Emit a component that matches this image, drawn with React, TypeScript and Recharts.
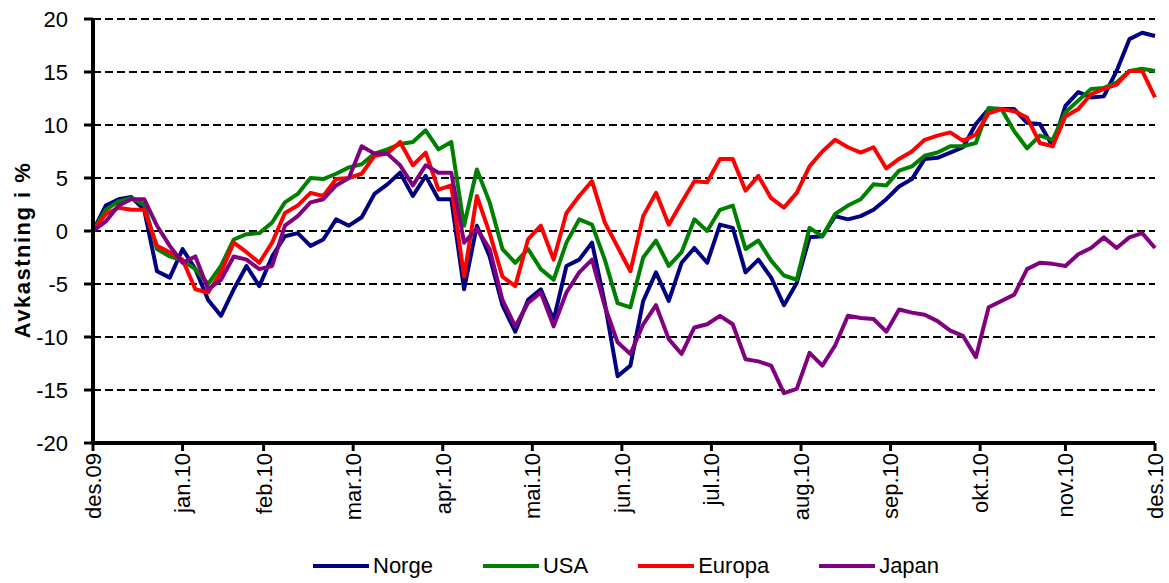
import React from 'react';
import { LineChart, Line, XAxis, YAxis, CartesianGrid, Legend } from 'recharts';

// trading day index (0 = end of Nov 2009)
const days = [
  0, 3, 6, 9, 12, 15, 18, 21, 24, 27, 30, 33, 36, 39, 42, 45, 48, 51, 54, 57,
  60, 63, 66, 69, 72, 75, 78, 81, 84, 87, 90, 93, 96, 99, 102, 105, 108, 111, 114, 117,
  120, 123, 126, 129, 132, 135, 138, 141, 144, 147, 150, 153, 156, 159, 162, 165, 168, 171, 174, 177,
  180, 183, 186, 189, 192, 195, 198, 201, 204, 207, 210, 213, 216, 219, 222, 225, 228, 231, 234, 237,
  240, 243, 246, 249,
];

const norge = [
  0, 2.4, 3.0, 3.2, 2.0, -3.8, -4.4, -1.7, -3.6, -6.5, -8.0, -5.5, -3.3, -5.2, -2.4, -0.5, -0.2, -1.4, -0.8, 1.1,
  0.5, 1.3, 3.5, 4.4, 5.5, 3.3, 5.2, 3.0, 3.0, -5.5, 0.5, -2.4, -7.0, -9.5, -6.5, -5.5, -8.4, -3.3, -2.7, -1.1,
  -6.8, -13.7, -12.7, -6.6, -3.9, -6.6, -3.0, -1.6, -3.0, 0.6, 0.3, -3.9, -2.7, -4.4, -7.0, -4.9, -0.6, -0.5, 1.4, 1.1,
  1.4, 2.0, 3.0, 4.2, 4.9, 6.8, 6.9, 7.4, 7.9, 10.1, 11.5, 11.5, 11.5, 10.2, 10.1, 8.0, 11.8, 13.1, 12.6, 12.7,
  15.1, 18.1, 18.7, 18.4,
];

const usa = [
  0, 2.0, 2.8, 3.1, 2.5, -1.7, -2.4, -2.8, -3.6, -5.0, -3.3, -0.8, -0.3, -0.2, 0.8, 2.7, 3.5, 5.0, 4.9, 5.4,
  6.0, 6.3, 7.3, 7.7, 8.2, 8.4, 9.5, 7.7, 8.4, 0.5, 5.8, 2.7, -1.7, -3.0, -1.7, -3.6, -4.6, -1.1, 1.1, 0.6,
  -2.7, -6.8, -7.2, -2.5, -0.9, -3.3, -2.0, 1.1, 0.0, 2.0, 2.4, -1.7, -0.9, -2.8, -4.2, -4.6, 0.3, -0.5, 1.6, 2.4,
  3.0, 4.4, 4.3, 5.7, 6.1, 7.1, 7.4, 8.0, 8.0, 8.3, 11.6, 11.5, 9.4, 7.8, 9.0, 8.6, 11.2, 12.3, 13.4, 13.5,
  14.0, 15.1, 15.3, 15.1,
];

const europa = [
  0, 1.6, 2.2, 2.0, 2.0, -1.4, -2.0, -2.7, -5.5, -5.8, -3.9, -1.1, -2.0, -3.0, -1.1, 1.7, 2.4, 3.6, 3.3, 4.9,
  5.0, 5.4, 7.1, 7.3, 8.4, 6.2, 7.4, 3.9, 4.3, -4.3, 3.3, -0.2, -4.3, -5.2, -0.8, 0.5, -2.7, 1.7, 3.3, 4.7,
  0.8, -1.5, -3.8, 1.4, 3.6, 0.6, 2.7, 4.7, 4.6, 6.8, 6.8, 3.8, 5.2, 3.1, 2.2, 3.6, 6.1, 7.5, 8.6, 7.9,
  7.4, 7.9, 5.9, 6.8, 7.5, 8.6, 9.0, 9.3, 8.5, 9.1, 11.1, 11.5, 11.3, 10.7, 8.3, 8.0, 10.8, 11.5, 12.9, 13.4,
  13.8, 15.1, 15.1, 12.6,
];

const japan = [
  0, 0.9, 2.4, 3.0, 3.0, 0.5, -1.4, -3.0, -2.4, -5.5, -4.6, -2.4, -2.7, -3.6, -3.3, 0.5, 1.4, 2.7, 3.0, 4.3,
  5.0, 8.0, 7.3, 7.3, 6.2, 4.3, 6.2, 5.5, 5.5, -1.1, 0.2, -1.7, -6.5, -9.0, -6.8, -5.8, -9.0, -5.8, -3.9, -2.7,
  -7.1, -10.5, -11.6, -8.8, -7.0, -10.2, -11.6, -9.1, -8.8, -8.0, -8.8, -12.1, -12.3, -12.7, -15.3, -14.9, -11.5, -12.7, -10.8, -8.0,
  -8.2, -8.3, -9.5, -7.4, -7.7, -7.9, -8.5, -9.4, -9.9, -11.9, -7.2, -6.6, -6.0, -3.6, -3.0, -3.1, -3.3, -2.2, -1.6, -0.6,
  -1.6, -0.6, -0.2, -1.6,
];

const monthTicks = [0, 21, 40, 61, 82, 103, 124, 145, 166, 187, 208, 228, 249];
const monthLabels = [
  'des.09', 'jan.10', 'feb.10', 'mar.10', 'apr.10', 'mai.10', 'jun.10',
  'jul.10', 'aug.10', 'sep.10', 'okt.10', 'nov.10', 'des.10',
];
const yTicks = [-20, -15, -10, -5, 0, 5, 10, 15, 20];

const seriesNames = ['Norge', 'USA', 'Europa', 'Japan'];
const seriesColors = ['#000080', '#008000', '#FF0000', '#800080'];

const data = days.map((day, i) => ({
  day,
  Norge: norge[i],
  USA: usa[i],
  Europa: europa[i],
  Japan: japan[i],
}));

const FONT = '"Liberation Sans", Arial, sans-serif';

const MonthTick = (props: any) => {
  const { x, y, payload } = props;
  const idx = monthTicks.indexOf(payload.value);
  return (
    <g transform={`translate(${x},${y})`}>
      <text
        transform="rotate(-90)"
        textAnchor="end"
        dy="0.36em"
        fontSize={22}
        fontFamily={FONT}
        fill="#000"
      >
        {monthLabels[idx]}
      </text>
    </g>
  );
};

const YTitle = () => (
  <text
    x={22}
    y={250}
    transform="rotate(-90, 22, 250)"
    textAnchor="middle"
    dominantBaseline="central"
    fontSize={22}
    fontWeight="bold"
    fontFamily={FONT}
    letterSpacing={1.5}
    fill="#000"
  >
    Avkastning i %
  </text>
);

const ChartLegend = () => (
  <div style={{ height: 40, display: 'flex', alignItems: 'center', paddingLeft: 313, paddingTop: 6, boxSizing: 'border-box', gap: 50, fontFamily: FONT }}>
    {seriesNames.map((name, i) => (
      <div key={name} style={{ display: 'flex', alignItems: 'center' }}>
        <div style={{ width: 56, height: 4, background: seriesColors[i], marginRight: 4 }} />
        <span style={{ fontSize: 22, color: '#000' }}>{name}</span>
      </div>
    ))}
  </div>
);

export default function App() {
  return (
    <div style={{ width: 1169, height: 583, background: '#fff' }}>
      <style>{'body { margin: 0; }'}</style>
      <LineChart width={1169} height={583} data={data} margin={{ top: 19, right: 14, left: 0, bottom: 0 }}>
        <CartesianGrid
          horizontal
          vertical={false}
          stroke="#000"
          strokeWidth={2.2}
          strokeDasharray="8 4"
        />
        <XAxis
          dataKey="day"
          type="number"
          domain={[0, 249]}
          ticks={monthTicks}
          interval={0}
          height={100}
          tick={<MonthTick />}
          tickSize={8}
          tickMargin={2}
          axisLine={{ stroke: '#000', strokeWidth: 4 }}
          tickLine={{ stroke: '#000', strokeWidth: 3 }}
        />
        <YAxis
          type="number"
          domain={[-20, 20]}
          ticks={yTicks}
          interval={0}
          width={93}
          tickSize={9}
          tickMargin={16}
          tick={{ fontSize: 22, fill: '#000', fontFamily: FONT }}
          axisLine={{ stroke: '#000', strokeWidth: 4 }}
          tickLine={{ stroke: '#000', strokeWidth: 3 }}
          label={<YTitle />}
        />
        <Legend verticalAlign="bottom" height={40} content={<ChartLegend />} wrapperStyle={{ left: 0, width: 1169 }} />
        {seriesNames.map((name, i) => (
          <Line
            key={name}
            type="linear"
            dataKey={name}
            stroke={seriesColors[i]}
            strokeWidth={4}
            strokeLinejoin="round"
            dot={false}
            activeDot={false}
            isAnimationActive={false}
          />
        ))}
      </LineChart>
    </div>
  );
}
